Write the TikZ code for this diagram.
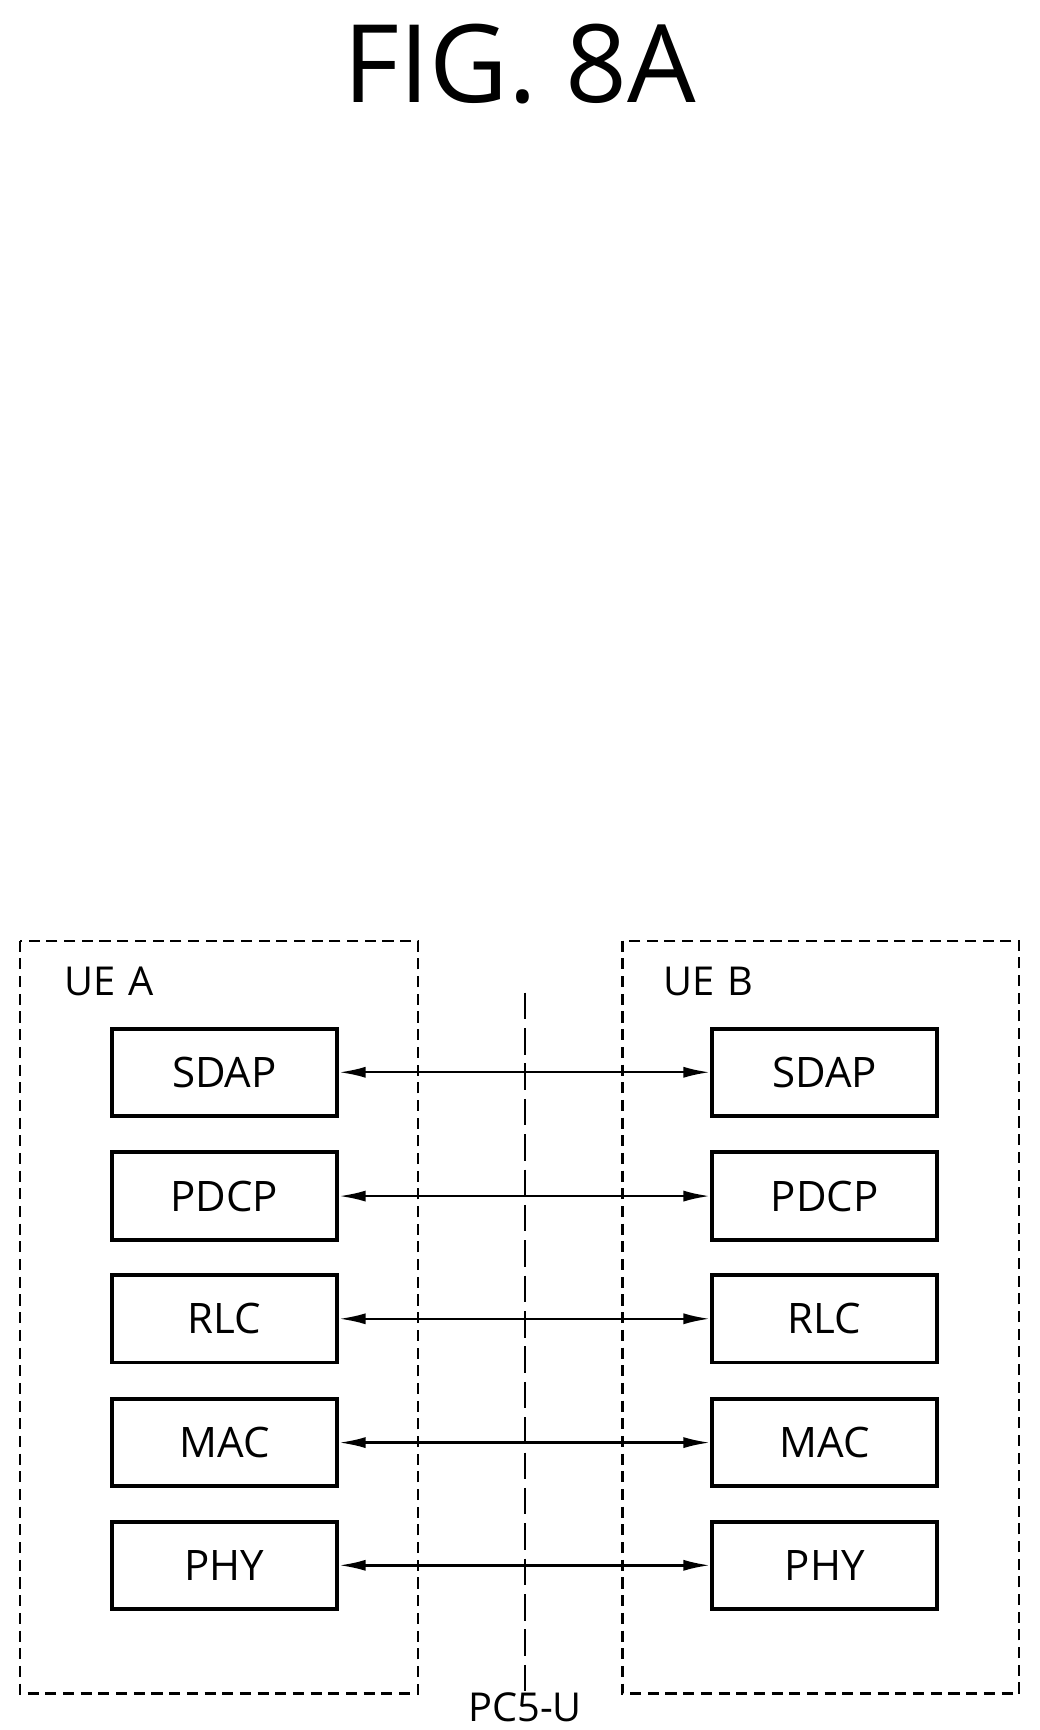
\documentclass[tikz,border=0pt]{standalone}
\usepackage{fontspec}
\setmainfont{Open Sans}
\usetikzlibrary{arrows.meta}
\begin{document}
\begin{tikzpicture}[x=1pt,y=-1pt,
 layer/.style={draw,line width=3.5pt,minimum width=204pt,minimum height=79pt,font=\fontsize{38}{40}\selectfont,inner sep=0pt},
 ue/.style={draw,line width=2.2pt,dash pattern=on 10pt off 6pt},
 lbl/.style={font=\fontsize{36}{40}\selectfont,inner sep=0pt},
 link/.style={line width=2.2pt,{Latex[length=24pt,width=10pt]}-{Latex[length=24pt,width=10pt]}}]
\useasboundingbox (0,0) rectangle (940,1565);
\node[font=\fontsize{98}{100}\selectfont,inner sep=0pt] (title) at (470,58) {FIG. 8A};
\draw[ue] (18,851) rectangle (378,1532);
\draw[ue] (563,851) rectangle (922,1532);
\node[lbl,anchor=west] (uea) at (58,888) {UE\,\,A};
\node[lbl,anchor=west] (ueb) at (600,888) {UE\,\,B};
\coordinate (dtop) at (475,898);
\coordinate (dbot) at (475,1532);
\draw[line width=2pt,dash pattern=on 24pt off 8pt] (dtop) -- (dbot);
\node[lbl,anchor=south] (pc5) at (475,1558) {PC5-U};
\foreach \n/\y in {SDAP/970,PDCP/1082,RLC/1193,MAC/1305,PHY/1416}{
 \node[layer] (a\n) at (203,\y) {\n};
 \node[layer] (b\n) at (746,\y) {\n};
 \draw[link] (a\n) -- (b\n);
}
\end{tikzpicture}
\end{document}
